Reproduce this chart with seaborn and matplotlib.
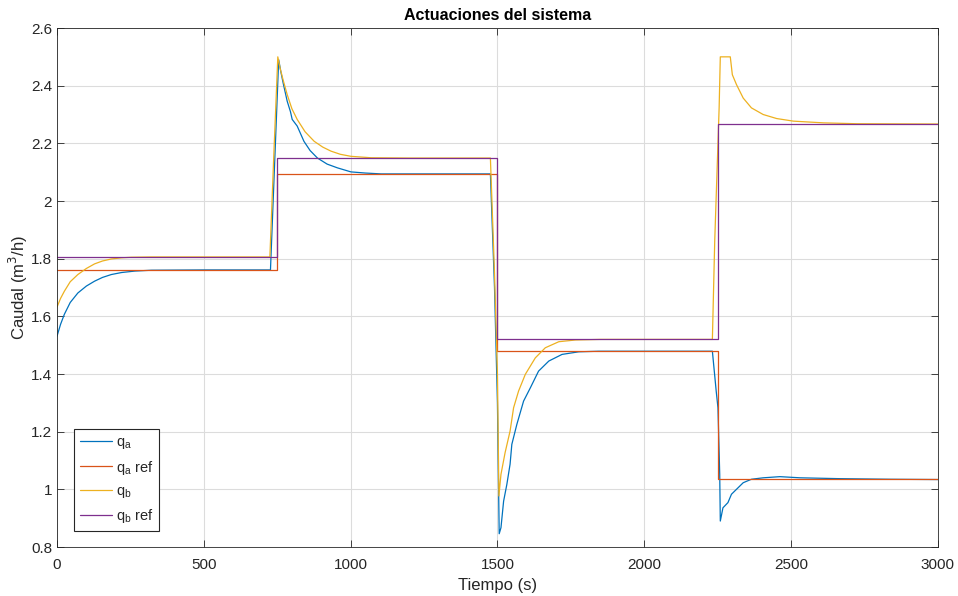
import numpy as np
import pandas as pd
import matplotlib
matplotlib.use("Agg")
import matplotlib.pyplot as plt
import seaborn as sns
from matplotlib.ticker import FormatStrFormatter

sns.set_theme(style="white")
plt.rcParams["font.family"] = ["Liberation Sans", "DejaVu Sans"]

# reference steps (steps-post)
ref_t = [0, 750, 1500, 2250, 3000]
qa_ref = [1.76, 2.095, 1.48, 1.035, 1.035]
qb_ref = [1.806, 2.15, 1.52, 2.267, 2.267]

# measured actuation q_a
qa_t = [0, 12, 25, 45, 71, 100, 128, 155, 185, 220, 265, 322, 500, 727, 740, 755,
        762, 770, 784, 795, 801, 818, 841, 862, 887, 920, 955, 1001, 1050, 1104,
        1300, 1476, 1490, 1500, 1506, 1512, 1521, 1532, 1543, 1549, 1566, 1589,
        1612, 1640, 1675, 1720, 1777, 1845, 2000, 2232, 2245, 2251,
        2257, 2259, 2268, 2285, 2297, 2314, 2337, 2365, 2405, 2462,
        2531, 2668, 2839, 3000]
qa = [1.531, 1.572, 1.607, 1.648, 1.681, 1.705, 1.722, 1.735, 1.745, 1.752, 1.757, 1.76,
      1.761, 1.761, 2.1, 2.49,
      2.45, 2.41, 2.346, 2.31, 2.283, 2.26, 2.207, 2.175, 2.149, 2.128, 2.115, 2.101,
      2.097, 2.094, 2.094, 2.094,
      1.7, 1.3, 0.846, 0.867, 0.959, 1.017, 1.087, 1.156, 1.225, 1.306,
      1.352, 1.41, 1.445, 1.468, 1.477, 1.479, 1.479, 1.479, 1.341, 1.283,
      1.052, 0.89, 0.936, 0.954, 0.983, 1.0, 1.023, 1.035, 1.04, 1.044,
      1.04, 1.037, 1.035, 1.034]

# measured actuation q_b
qb_t = [0, 12, 25, 45, 71, 100, 128, 155, 185, 220, 253, 320, 500, 725, 738, 752,
        760, 770, 784, 800, 818, 845, 876, 905, 933, 965, 1001, 1070, 1200, 1476,
        1490, 1500, 1505, 1512, 1526, 1543, 1555, 1572, 1595, 1629,
        1663, 1709, 1766, 1850, 2000, 2232, 2240, 2255, 2259, 2293,
        2300, 2314, 2337, 2365, 2405, 2451, 2508, 2611, 2725, 3000]
qb = [1.632, 1.662, 1.687, 1.72, 1.745, 1.766, 1.782, 1.792, 1.799, 1.803, 1.805,
      1.806, 1.806, 1.806, 2.15, 2.50,
      2.46, 2.42, 2.369, 2.32, 2.283, 2.24, 2.207, 2.187, 2.173, 2.162, 2.155, 2.15,
      2.149, 2.149,
      1.75, 1.4, 0.977, 1.052, 1.127, 1.202, 1.283, 1.341, 1.399, 1.456,
      1.491, 1.512, 1.518, 1.52, 1.52, 1.52, 1.861, 2.323, 2.50, 2.50,
      2.438, 2.404, 2.357, 2.323, 2.30, 2.286, 2.277, 2.271, 2.268, 2.267]

colors = ["#0072BD", "#D95319", "#EDB120", "#7E2F8E"]

fig = plt.figure(figsize=(9.58, 5.96), dpi=100)
ax = fig.add_axes([0.0595, 0.0822, 0.9195, 0.8708])

lw = 0.9
sns.lineplot(x=qa_t, y=qa, ax=ax, color=colors[0], lw=lw,
             estimator=None, sort=False, label=r"$\mathregular{q_a}$")
sns.lineplot(x=ref_t, y=qa_ref, ax=ax, color=colors[1], lw=lw,
             estimator=None, sort=False, drawstyle="steps-post",
             label=r"$\mathregular{q_a}$ ref")
sns.lineplot(x=qb_t, y=qb, ax=ax, color=colors[2], lw=lw,
             estimator=None, sort=False, label=r"$\mathregular{q_b}$")
sns.lineplot(x=ref_t, y=qb_ref, ax=ax, color=colors[3], lw=lw,
             estimator=None, sort=False, drawstyle="steps-post",
             label=r"$\mathregular{q_b}$ ref")

ax.set_xlim(0, 3000)
ax.set_ylim(0.8, 2.6)
ax.set_xticks(np.arange(0, 3001, 500))
ax.set_yticks(np.arange(0.8, 2.61, 0.2))
ax.yaxis.set_major_formatter(FormatStrFormatter("%g"))
ax.grid(True, color="#dcdcdc", lw=0.8)
ax.tick_params(direction="in", length=5, width=0.6, colors="#262626",
               labelsize=11, top=True, right=True, bottom=True, left=True,
               labeltop=False, labelright=False)
ax.tick_params(axis="x", pad=8)
for sp in ax.spines.values():
    sp.set_color("#262626")
    sp.set_linewidth(0.6)

ax.set_title("Actuaciones del sistema", fontsize=11.5, fontweight="bold",
             color="#000000", pad=6)
ax.set_xlabel("Tiempo (s)", fontsize=12, color="#262626", labelpad=4)
ax.set_ylabel(r"Caudal (m$^3$/h)", fontsize=12, color="#262626", labelpad=1)

leg = ax.legend(loc="lower left", bbox_to_anchor=(0.0193, 0.031), fontsize=10.5,
                frameon=True, fancybox=False, framealpha=1, edgecolor="#262626",
                handlelength=2.2, handletextpad=0.25, borderpad=0.4,
                labelspacing=0.5, borderaxespad=0)
leg.get_frame().set_linewidth(0.8)

fig.savefig("out.png", dpi=100)
